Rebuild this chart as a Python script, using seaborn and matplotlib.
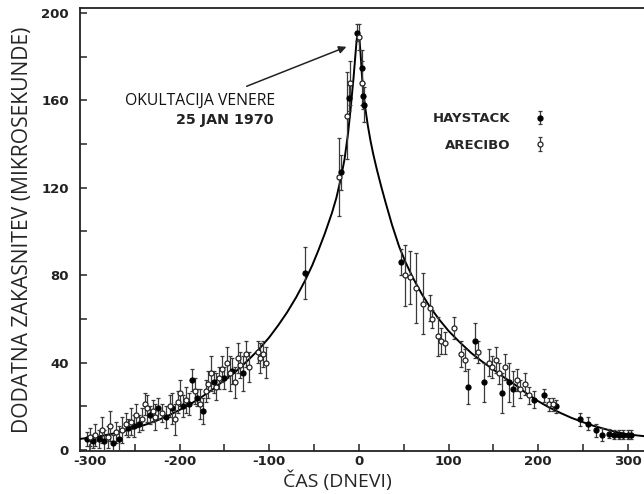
"""Shapiro delay of radar echoes from Venus: Haystack and Arecibo data with model curve."""

import matplotlib
matplotlib.use("Agg")
import matplotlib.pyplot as plt
from matplotlib.ticker import MultipleLocator
import pandas as pd
import seaborn as sns

# model curve (days, microseconds)
curve_days = [-312, -300, -287, -275, -262, -250, -237, -225, -212, -200, -187, -175,
              -162, -150, -137, -125, -112, -100, -90, -80, -70, -60, -52, -45,
              -38, -30, -25, -20, -16, -12, -9, -6, -4, -2.5, -1, 0.5, 2, 3.5,
              5, 7, 10, 13, 16, 20, 25, 30, 37, 45, 52, 60, 70, 80, 90, 100,
              112, 125, 137, 150, 162, 175, 187, 200, 212, 225, 237, 250, 262,
              275, 287, 300, 318]
curve_delay = [5.0, 5.6, 6.4, 7.4, 8.6, 10, 11.7, 13.5, 15.8, 18.3, 21.2, 24.3,
               28, 32, 36, 40.5, 45.8, 51.5, 57, 63, 69.8, 77.5, 84.5, 91.5,
               99, 108.5, 115.5, 124.5, 133, 145, 157, 170, 180, 187.5, 191, 189, 181, 171,
               164, 157, 148.5, 141.5, 135.5, 128.5, 120.5, 113, 103, 93, 86, 79, 71.5,
               65, 59.5, 54.5,
               49.5, 44.5, 40.6, 36.8, 33.2, 29.6, 25.9, 22.3, 19.5, 16.9, 14.7, 12.7, 11,
               9.5, 8.2, 7.1, 6.3]

# Haystack measurements (filled)
hay_days = [-303, -297, -290, -284, -274, -268, -257, -251, -245, -233, -224, -215,
            -208, -196, -189, -186, -180, -174, -162, -150, -141, -129,
            -60, -20, -11, -2, 3, 5, 6,
            47, 122, 130, 140, 160, 167, 172, 195, 207, 220, 247, 256, 264, 271,
            279, 285, 290, 295, 300, 304]
hay_delay = [5, 4, 5, 4, 3, 5, 10, 11, 12, 16, 19, 15,
             19, 20, 21, 32, 24, 18, 31, 33, 36, 35,
             81, 127, 161, 191, 175, 162, 158,
             86, 29, 50, 31, 26, 31, 28, 23, 25, 20, 14, 12, 9, 7,
             7.5, 7, 7, 7, 7, 7]
hay_err = [3, 3, 4, 5, 4, 6, 4, 5, 4, 4, 5, 5,
           7, 5, 5, 5, 4, 6, 5, 5, 6, 8,
           12, 8, 6, 4, 8, 6, 8,
           6, 8, 8, 9, 9, 9, 8, 4, 3, 3, 3, 3, 3, 3,
           2, 2, 2, 2, 2, 2]

# Arecibo measurements (open)
are_days = [-300, -294, -287, -280, -277, -271, -264, -260, -254, -248, -242, -239,
            -236, -230, -227, -220, -211, -205, -202, -199, -193, -183, -177, -171,
            -168, -165, -159, -156, -153, -147, -144, -138, -135, -132, -126, -122,
            -113, -110, -107, -104,
            -22, -13, -10, 0, 4,
            51, 57, 64, 72, 79, 82, 88, 92, 96, 106, 114, 118, 133, 145, 149,
            153, 156, 163, 176, 180, 185, 190, 212, 216]
are_delay = [6, 7, 9, 6, 11, 8, 9, 12, 13, 16, 14, 21,
             19, 18, 15, 17, 20, 14, 22, 26, 23, 27, 21, 27,
             30, 35, 29, 33, 37, 40, 35, 31, 42, 39, 44, 38,
             45, 42, 44, 40,
             125, 153, 168, 189, 168,
             80, 79, 74, 67, 65, 60, 52, 50, 49, 56, 44, 41, 45, 40, 38,
             41, 35, 38, 32, 28, 30, 25, 21, 21]
are_err = [4, 5, 6, 5, 7, 5, 6, 5, 6, 5, 5, 5,
           6, 5, 6, 4, 5, 7, 5, 6, 6, 6, 7, 5,
           6, 8, 6, 5, 6, 7, 8, 7, 7, 6, 6, 7,
           5, 7, 6, 7,
           18, 20, 10, 6, 10,
           14, 12, 16, 14, 6, 4, 9, 6, 5, 5, 6, 5, 5, 6, 5,
           6, 5, 6, 5, 4, 5, 4, 3, 3]

x_tick_labels = ["-300", "-200", "-100", "0", "100", "200", "300"]
y_tick_labels = ["0", "40", "80", "120", "160", "200"]

sns.set_style("ticks")
plt.rcParams["font.family"] = ["DejaVu Sans"]

fig = plt.figure(figsize=(6.44, 4.94), dpi=100)
ax = fig.add_axes([0.1242, 0.087, 0.8758, 0.8968])

curve = pd.DataFrame({"days": curve_days, "delay": curve_delay})
sns.lineplot(data=curve, x="days", y="delay", ax=ax, color="black", linewidth=1.4,
             sort=False, zorder=3)

bar_kw = dict(fmt="o", ecolor="#3a3a3a", elinewidth=0.9, capsize=1.6, capthick=0.9,
              markersize=3.6, markeredgewidth=0.9, zorder=4)
hay = ax.errorbar(hay_days, hay_delay, yerr=hay_err, color="black", mfc="black",
                  mec="black", label="HAYSTACK", **bar_kw)
are = ax.errorbar(are_days, are_delay, yerr=are_err, color="black", mfc="white",
                  mec="#222222", label="ARECIBO", **bar_kw)

ax.set_xlim(-311, 318)
ax.set_ylim(-0.5, 202.3)

ax.set_xticks([int(t) for t in x_tick_labels])
ax.set_xticklabels(x_tick_labels)
ax.set_yticks([int(t) for t in y_tick_labels])
ax.set_yticklabels(y_tick_labels)
ax.xaxis.set_minor_locator(MultipleLocator(50))
ax.yaxis.set_minor_locator(MultipleLocator(20))
ax.tick_params(which="both", direction="in", length=5, width=1.1, color="#222222")
ax.tick_params(which="major", labelsize=9.5)
ax.tick_params(axis="x", which="major", pad=3)
ax.tick_params(axis="y", which="major", pad=8)
for lab in ax.get_xticklabels() + ax.get_yticklabels():
    lab.set_fontweight("bold")
    lab.set_color("#222222")

for side in ["left", "bottom", "top"]:
    ax.spines[side].set_linewidth(1.3)
    ax.spines[side].set_color("#222222")
ax.spines["right"].set_visible(False)

ax.set_xlabel("ČAS (DNEVI)", family="Open Sans", fontsize=14)
ax.xaxis.set_label_coords(0.456, -0.045)
ax.set_ylabel("DODATNA ZAKASNITEV (MIKROSEKUNDE)", family="Open Sans", fontsize=15.2)
ax.yaxis.set_label_coords(-0.083, 0.5)

ax.annotate("", xy=(-11, 185), xytext=(-128, 166),
            arrowprops=dict(arrowstyle="-|>", color="#222222", lw=1.1,
                            mutation_scale=11))
ax.text(-177, 160, "OKULTACIJA VENERE", family="Open Sans", fontsize=11.3,
        ha="center", va="center", color="#111111")
ax.text(-150, 151, "25 JAN 1970", fontsize=10.3, fontweight="bold",
        ha="center", va="center", color="#222222")

leg = ax.legend(handles=[hay, are], loc="center left", bbox_to_anchor=(0.605, 0.72),
                frameon=False, markerfirst=False, handlelength=0.9, handletextpad=1.8,
                labelspacing=1.0, prop={"weight": "bold", "size": 9.5})

fig.savefig("out.png", dpi=100)
plt.close(fig)
